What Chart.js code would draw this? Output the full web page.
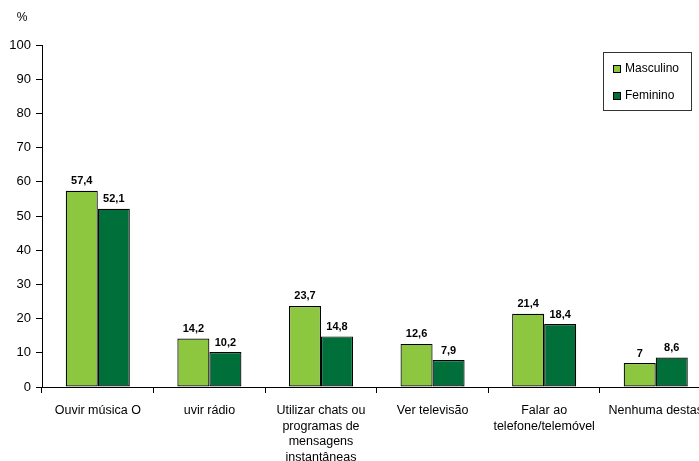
<!DOCTYPE html>
<html>
<head>
<meta charset="utf-8">
<script src="https://cdn.jsdelivr.net/npm/chart.js@4.4.1/dist/chart.umd.min.js"></script>
<style>
  html, body { margin: 0; padding: 0; background: #fff; overflow: hidden; }
  #wrap { position: relative; width: 713px; height: 461px; }
</style>
</head>
<body>
<div id="wrap"><canvas id="c" width="713" height="461"></canvas></div>
<script>
const categories = [
  "Ouvir música O",
  "uvir rádio",
  ["Utilizar chats ou", "programas de", "mensagens", "instantâneas"],
  "Ver televisão",
  ["Falar ao", "telefone/telemóvel"],
  "Nenhuma destas"
];
const masculino = [57.4, 14.2, 23.7, 12.6, 21.4, 7];
const feminino = [52.1, 10.2, 14.8, 7.9, 18.4, 8.6];
const seriesNames = ["Masculino", "Feminino"];
const seriesColors = ["#8dc63f", "#006f39"];
const yTicks = { min: 0, max: 100, step: 10 };

const FONT = "Arial, 'Liberation Sans', sans-serif";

const labelPlugin = {
  id: 'valueLabels',
  afterDatasetsDraw(chart) {
    const ctx = chart.ctx;
    ctx.save();
    ctx.font = "bold 11px " + FONT;
    ctx.fillStyle = "#000";
    ctx.textAlign = "center";
    ctx.textBaseline = "bottom";
    chart.data.datasets.forEach((ds, i) => {
      const meta = chart.getDatasetMeta(i);
      meta.data.forEach((bar, j) => {
        const txt = String(ds.data[j]).replace('.', ',');
        ctx.fillText(txt, bar.x, bar.y - 4);
      });
    });
    // percent sign
    ctx.font = "12px " + FONT;
    ctx.textAlign = "center";
    ctx.textBaseline = "middle";
    ctx.fillText("%", 22, 18);
    // legend box
    const bx = 603, by = 52, bw = 88, bh = 58;
    ctx.strokeStyle = "#333";
    ctx.lineWidth = 1;
    ctx.strokeRect(bx + 0.5, by + 0.5, bw, bh);
    const rows = [69, 96];
    chart.data.datasets.forEach((ds, i) => {
      const cy = rows[i];
      ctx.fillStyle = ds.backgroundColor;
      ctx.fillRect(613, cy - 4, 8, 8);
      ctx.strokeStyle = "#000";
      ctx.strokeRect(613.5, cy - 3.5, 7, 7);
      ctx.fillStyle = "#000";
      ctx.textAlign = "left";
      ctx.textBaseline = "middle";
      ctx.fillText(ds.label, 625, cy);
    });
    ctx.restore();
  }
};

new Chart(document.getElementById('c'), {
  type: 'bar',
  data: {
    labels: categories,
    datasets: [
      { label: seriesNames[0], data: masculino, backgroundColor: seriesColors[0],
        borderColor: "#000", borderWidth: 1.2, borderSkipped: false },
      { label: seriesNames[1], data: feminino, backgroundColor: seriesColors[1],
        borderColor: "#000", borderWidth: 1.2, borderSkipped: false }
    ]
  },
  options: {
    responsive: false,
    animation: false,
    events: [],
    layout: { padding: { top: 45, right: 0, left: 0, bottom: 0 } },
    datasets: { bar: { categoryPercentage: 0.574, barPercentage: 1 } },
    plugins: { legend: { display: false }, tooltip: { enabled: false } },
    scales: {
      x: {
        offset: true,
        grid: { display: true, drawOnChartArea: false, offset: true, color: "#000", tickLength: 6, lineWidth: 1 },
        border: { display: true, color: "#000", width: 1 },
        ticks: { color: "#000", font: { size: 12.5, family: FONT, lineHeight: 1.24 }, padding: 10, maxRotation: 0, autoSkip: false },
        afterFit(scale) { scale.height = 74; }
      },
      y: {
        min: yTicks.min, max: yTicks.max,
        grid: { display: true, drawOnChartArea: false, color: "#000", tickLength: 6 },
        border: { display: true, color: "#000", width: 1 },
        ticks: { stepSize: yTicks.step, color: "#000", font: { size: 13, family: FONT }, padding: 5 },
        afterFit(scale) { scale.width = 42; }
      }
    }
  },
  plugins: [labelPlugin]
});
</script>
</body>
</html>
